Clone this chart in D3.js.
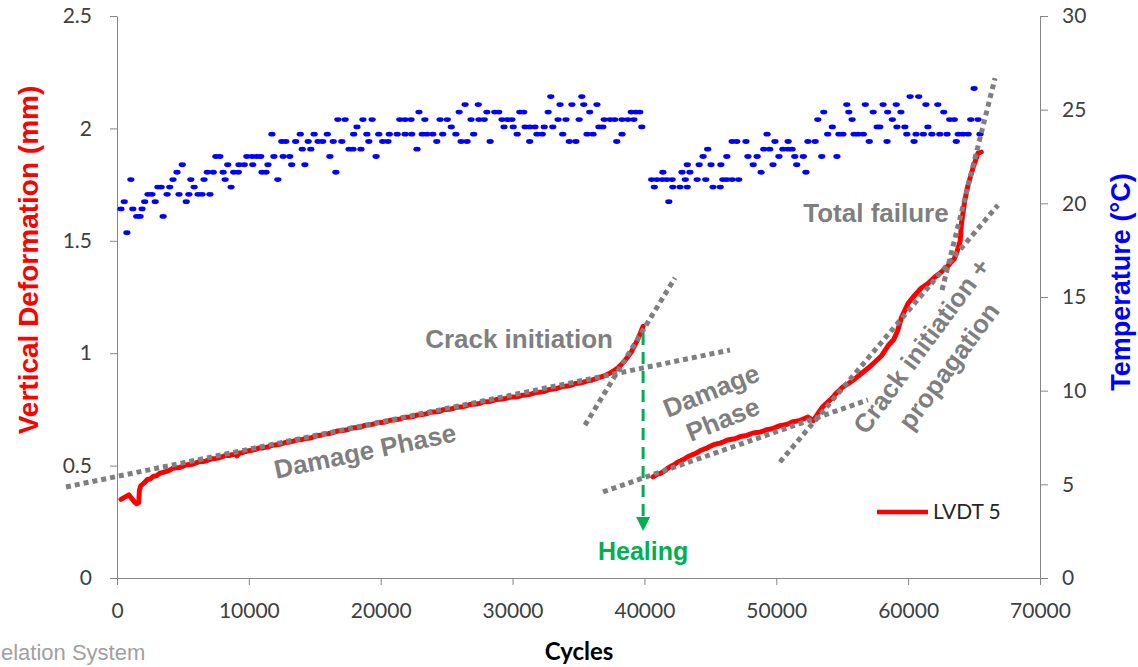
<!DOCTYPE html>
<html><head><meta charset="utf-8">
<script src="https://cdn.jsdelivr.net/npm/d3@7/dist/d3.min.js"></script>
<style>
body{margin:0;background:#fff;}
svg{display:block;}
</style></head>
<body>
<svg id="chart" width="1138" height="667"></svg>
<script>
// ---------- DATA ----------
const xTicks = [0,10000,20000,30000,40000,50000,60000,70000];
const yLeftTicks = [0,0.5,1,1.5,2,2.5];
const yRightTicks = [0,5,10,15,20,25,30];

// LVDT 5 vertical deformation (cycles, mm) - before healing
const lvdtBefore = [[300,0.35],[600,0.36],[900,0.37],[1100,0.355],[1300,0.34],[1500,0.33],[1650,0.335],[1700,0.39],[1800,0.41],[2100,0.425],[2300,0.438],[2500,0.44],[2750,0.452],[3000,0.455],[3250,0.466],[3500,0.47],[3750,0.474],[4000,0.48],[4250,0.488],[4500,0.49],[4750,0.492],[5000,0.497],[5250,0.503],[5500,0.505],[5750,0.506],[6000,0.512],[6250,0.518],[6500,0.518],[6750,0.52],[7000,0.527],[7250,0.531],[7500,0.532],[7750,0.535],[8000,0.54],[8250,0.546],[8500,0.545],[8750,0.548],[9000,0.552],[9100,0.543],[9300,0.556],[9500,0.557],[9750,0.563],[10000,0.566],[10250,0.568],[10500,0.572],[10750,0.578],[11000,0.578],[11250,0.581],[11500,0.584],[11750,0.59],[12000,0.592],[12250,0.594],[12500,0.597],[12750,0.603],[13000,0.604],[13250,0.607],[13500,0.611],[13750,0.615],[14000,0.615],[14250,0.62],[14500,0.622],[14750,0.624],[15000,0.63],[15250,0.634],[15500,0.635],[15750,0.64],[16000,0.642],[16250,0.645],[16500,0.649],[16750,0.654],[17000,0.655],[17250,0.657],[17500,0.66],[17750,0.666],[18000,0.668],[18250,0.669],[18500,0.672],[18750,0.678],[19000,0.68],[19250,0.682],[19500,0.686],[19750,0.691],[20000,0.692],[20250,0.693],[20500,0.697],[20750,0.702],[21000,0.703],[21250,0.705],[21500,0.708],[21750,0.714],[22000,0.715],[22250,0.716],[22500,0.718],[22750,0.725],[23000,0.726],[23250,0.728],[23500,0.731],[23750,0.737],[24000,0.738],[24250,0.739],[24500,0.742],[24750,0.749],[25000,0.75],[25250,0.751],[25500,0.754],[25750,0.76],[26000,0.761],[26250,0.762],[26500,0.766],[26750,0.772],[27000,0.773],[27250,0.774],[27500,0.777],[27750,0.783],[28000,0.784],[28250,0.785],[28500,0.789],[28750,0.794],[29000,0.795],[29250,0.796],[29500,0.799],[29750,0.804],[30000,0.805],[30250,0.805],[30500,0.808],[30750,0.813],[31000,0.814],[31250,0.816],[31500,0.82],[31750,0.825],[32000,0.826],[32250,0.828],[32500,0.832],[32750,0.838],[33000,0.84],[33250,0.842],[33500,0.846],[33750,0.852],[34000,0.853],[34250,0.855],[34500,0.858],[34750,0.865],[35000,0.866],[35250,0.869],[35500,0.873],[35750,0.878],[36000,0.88],[36500,0.89],[37000,0.9],[37500,0.915],[38000,0.935],[38500,0.965],[39000,1.005],[39400,1.05],[39700,1.09],[39900,1.12]];
// after healing
const lvdtAfter = [[40650,0.45],[41000,0.462],[41250,0.466],[41500,0.475],[41750,0.488],[42000,0.497],[42250,0.504],[42500,0.515],[42750,0.521],[43000,0.528],[43250,0.538],[43500,0.545],[43750,0.551],[44000,0.558],[44250,0.567],[44500,0.573],[44750,0.578],[45000,0.586],[45250,0.593],[45500,0.597],[45750,0.6],[46000,0.606],[46250,0.613],[46500,0.616],[46750,0.618],[47000,0.622],[47250,0.629],[47500,0.632],[47750,0.634],[48000,0.64],[48250,0.645],[48500,0.647],[48750,0.649],[49000,0.653],[49250,0.66],[49500,0.662],[49750,0.665],[50000,0.671],[50250,0.677],[50500,0.68],[50750,0.683],[51000,0.688],[51250,0.695],[51500,0.697],[51750,0.7],[52000,0.706],[52400,0.716],[52800,0.70],[53200,0.735],[53500,0.76],[54000,0.788],[54250,0.801],[54500,0.82],[54750,0.832],[55000,0.848],[55500,0.866],[56000,0.888],[56500,0.912],[57000,0.935],[57500,0.962],[58000,0.99],[58500,1.035],[58900,1.06],[59200,1.10],[59500,1.16],[60000,1.222],[60500,1.258],[61000,1.29],[61500,1.31],[62000,1.338],[62500,1.36],[63000,1.388],[63500,1.42],[63700,1.45],[63950,1.50],[64050,1.58],[64300,1.68],[64550,1.75],[64950,1.83],[65300,1.89],[65550,1.895]];

// Temperature readings (°C), grouped by recorded level
const tempLevels = [18.43,19.30,19.70,20.09,20.48,20.87,21.27,21.66,22.06,22.50,22.89,23.30,23.69,24.08,24.47,24.87,25.27,25.70,26.13];
const tempCycles = [
  [750],
  [1500,1750,3500],
  [300,1200,1900],
  [550,2100,2900,5250,41850],
  [2350,2650,3800,4700,5450,6150,6450,7050],
  [3100,3350,4000,5850,8650,40750,42150,42700,43250,45200,45750],
  [1050,4250,5600,6600,8200,12200,40550,40950,41350,41700,42100,43100,44000,44650,45950,46250,46650,47150],
  [4550,6850,7300,8050,8850,9200,11000,11300,16600,41400,42850,43450,48850,52250],
  [4950,8400,9250,9650,10300,11450,13250,14250,43250,44150,45050,45800,48250,49750,51550],
  [7500,7800,9850,10250,10600,10900,11900,12600,13100,16150,19650,44450,46250,47850,48550,50200,51400,52050,53450,54600],
  [14050,14700,17600,17900,18500,22750,44800,49050,49500,50500,50900,51200],
  [12500,12800,13550,14500,15250,15600,16400,17050,19100,20150,20550,24250,26100,26550,28300,31300,34300,34800,37900,46650,47000,47700,49900,50900,52400,52950,57050,58400,60450,63650],
  [11750,13900,14950,15950,17950,18950,19850,20650,21250,21850,22350,23150,23500,23950,24700,25700,27050,30350,31850,32250,33800,35650,36100,38300,49300,53900,54750,55050,55900,56200,56600,59900,60600,61150,61800,62400,62950,63800,64150,64550,65450],
  [18200,25350,29350,30050,30950,31300,31700,32400,33050,36550,36850,39800,54250,57650,57850,59150,59750,61500],
  [16750,17300,18650,19350,21450,21850,22300,23350,24500,25050,26850,27450,27850,29200,29600,29950,33450,34050,35050,36950,37400,37750,38300,38750,39200,53150,55750,58800,63150,63500,64750,65300],
  [22900,25950,28050,28650,28950,30550,30850,32700,35850,39000,39350,39650,53600,55500,57350,58450,59450,62700],
  [26400,27400,33600,34500,35400,36400,55350,56750,58100,59100,61350,62250],
  [32900,35250,60150,60800],
  [65000]
];

// dotted trend lines [[cycles, mm],[cycles, mm]]
const trendLines = [
  [[-3870,0.405],[46490,1.014]],
  [[35490,0.68],[42320,1.335]],
  [[36860,0.383],[56950,0.792]],
  [[50280,0.516],[66810,1.659]],
  [[62570,1.281],[66590,2.224]]
];

// annotations: text lines, position (cycles, mm), rotation
const annotations = [
  {lines:["Crack initiation"], at:[30490,1.023], rot:0, baseline:true},
  {lines:["Damage Phase"], at:[18810,0.565], rot:-11.7},
  {lines:["Damage","Phase"], at:[45500,0.770], rot:-22, lh:31},
  {lines:["Total failure"], at:[57560,1.584], rot:0, baseline:true},
  {lines:["Crack initiation +","propagation"], at:[62040,0.988], rot:-53.5, lh:34}
];
const healing = {cycles:39900, from:1.09, to:0.271, tip:0.209, label:0.08, text:"Healing"};

// ---------- CHART ----------
const svg = d3.select("#chart");
const x = d3.scaleLinear().domain([0,70000]).range([117,1040]);
const yL = d3.scaleLinear().domain([0,2.5]).range([578,16]);
const yR = d3.scaleLinear().domain([0,30]).range([578,16]);

const axisColor = "#868686";
const tickFont = "Lato, 'Open Sans', sans-serif";

function styleAxis(g){
  g.select(".domain").attr("stroke",axisColor).attr("stroke-width",1);
  g.selectAll(".tick line").attr("stroke",axisColor);
  g.selectAll(".tick text").attr("fill","#404040").style("font-family",tickFont).style("font-size","21px");
}

svg.append("g").attr("transform","translate(0,578)")
  .call(d3.axisBottom(x).tickValues(xTicks).tickFormat(d=>String(d)).tickSize(7).tickSizeOuter(0).tickPadding(18))
  .call(styleAxis);
svg.append("g").attr("transform","translate(117,0)")
  .call(d3.axisLeft(yL).tickValues(yLeftTicks).tickFormat(d=>String(d)).tickSize(7).tickSizeOuter(0).tickPadding(18))
  .call(styleAxis);
svg.append("g").attr("transform","translate(1040,0)")
  .call(d3.axisRight(yR).tickValues(yRightTicks).tickFormat(d=>String(d)).tickSize(8).tickSizeOuter(0).tickPadding(14))
  .call(styleAxis);

// temperature points
const tempPts = [];
tempLevels.forEach((t,i)=>tempCycles[i].forEach(c=>tempPts.push([c,t])));
svg.append("g").selectAll("ellipse").data(tempPts).join("ellipse")
  .attr("cx",d=>x(d[0])).attr("cy",d=>yR(d[1])).attr("rx",3.6).attr("ry",2.4).attr("fill","#0000ff");

// LVDT line
const line = d3.line().x(d=>x(d[0])).y(d=>yL(d[1]));
[lvdtBefore,lvdtAfter].forEach(seg=>{
  svg.append("path").datum(seg).attr("d",line).attr("fill","none").attr("stroke","#ff0000")
    .attr("stroke-width",5).attr("stroke-linejoin","round").attr("stroke-linecap","round");
});

// trend lines
svg.append("g").selectAll("path").data(trendLines).join("path")
  .attr("d",line).attr("fill","none").attr("stroke","#7f7f7f").attr("stroke-width",5).attr("stroke-dasharray","5,4");

// healing arrow
const hx = x(healing.cycles);
svg.append("line").attr("x1",hx).attr("x2",hx).attr("y1",yL(healing.from)).attr("y2",yL(healing.to))
  .attr("stroke","#00b050").attr("stroke-width",3).attr("stroke-dasharray","12,7");
svg.append("path").attr("d",`M${hx-7},${yL(healing.to)}L${hx+7},${yL(healing.to)}L${hx},${yL(healing.tip)}Z`).attr("fill","#00b050");
svg.append("text").attr("x",hx).attr("y",yL(healing.label)).attr("text-anchor","middle")
  .attr("fill","#00b050").style("font-family","'Liberation Sans', Arial, sans-serif").style("font-weight","bold").style("font-size","25px")
  .text(healing.text);

// annotations
annotations.forEach(a=>{
  const g = svg.append("g").attr("transform",`translate(${x(a.at[0])},${yL(a.at[1])}) rotate(${a.rot})`);
  const t = g.append("text").attr("text-anchor","middle").attr("fill","#7f7f7f")
    .style("font-family","'Liberation Sans', Arial, sans-serif").style("font-weight","bold").style("font-size","26px");
  const n = a.lines.length, lh = a.lh || 31;
  a.lines.forEach((s,i)=>{
    t.append("tspan").attr("x",0).attr("y",(i-(n-1)/2)*lh).attr("dy",a.baseline?0:"0.35em").text(s);
  });
});

// legend
svg.append("line").attr("x1",877).attr("x2",928).attr("y1",512).attr("y2",512).attr("stroke","#ff0000").attr("stroke-width",4.5);
svg.append("text").attr("x",933).attr("y",519).attr("fill","#262626")
  .style("font-family",tickFont).style("font-size","21px").text("LVDT 5");

// axis titles
svg.append("text").attr("transform","translate(38,260) rotate(-90)").attr("text-anchor","middle")
  .attr("fill","#ff0000").style("font-family","'Liberation Sans', Arial, sans-serif").style("font-weight","bold").style("font-size","28px")
  .text("Vertical Deformation (mm)");
svg.append("text").attr("transform","translate(1130,282) rotate(-90)").attr("text-anchor","middle")
  .attr("fill","#0000ff").style("font-family","'Liberation Sans', Arial, sans-serif").style("font-weight","bold").style("font-size","27px")
  .text("Temperature (°C)");
svg.append("text").attr("x",579).attr("y",660).attr("text-anchor","middle").attr("fill","#000")
  .style("font-family",tickFont).style("font-weight","bold").style("font-size","24px").text("Cycles");

// cropped slide caption at bottom-left
svg.append("text").attr("x",1).attr("y",660).attr("fill","#a0a0a0")
  .style("font-family","'Liberation Sans', Arial, sans-serif").style("font-size","22px").text("elation System");
</script>
</body></html>
